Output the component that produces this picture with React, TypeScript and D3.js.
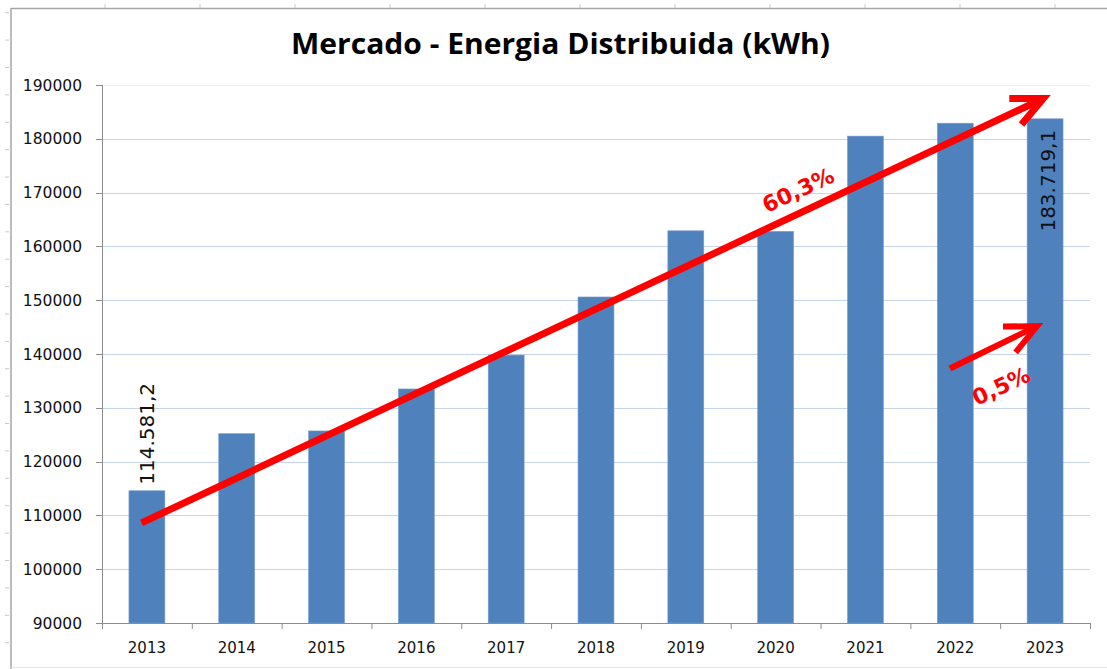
import React from "react";
import * as d3 from "d3";

// chart data
const years = ["2013", "2014", "2015", "2016", "2017", "2018", "2019", "2020", "2021", "2022", "2023"];
const energy = [114581.2, 125200, 125700, 133500, 139800, 150600, 162900, 162800, 180500, 182900, 183719.1];
const yTicks = [90000, 100000, 110000, 120000, 130000, 140000, 150000, 160000, 170000, 180000, 190000];
const labelled = [
  { year: "2013", text: "114.581,2", inside: false },
  { year: "2023", text: "183.719,1", inside: true },
];
// annotation arrows: year + offset (fraction of a band) and value
const arrows = [
  { from: ["2013", -0.06, 108600], to: ["2023", -0.02, 187500], width: 7 },
  { from: ["2022", -0.06, 137300], to: ["2023", -0.09, 145200], width: 6 },
];
const notes = [
  { at: ["2020", 0.25, 170500], text: "60,3%" },
  { at: ["2022", 0.51, 134050], text: "0,5%" },
];

const W = 1107;
const H = 669;
const FONT = "'DejaVu Sans', Verdana, sans-serif";

export default function App() {
  const x = d3.scaleBand().domain(years).range([102, 1090]).padding(0);
  const y = d3.scaleLinear().domain([90000, 190000]).range([623, 85]);
  const bw = x.bandwidth() * 0.4;
  const cx = (yr: string) => (x(yr) as number) + x.bandwidth() / 2;
  const pt = (p: any[]) => [cx(p[0]) + p[1] * x.bandwidth(), y(p[2])];
  const fmt = d3.format("d");

  // spreadsheet background ticks
  const rowTicks = d3.range(0, 24).map((i) => 12.7 + i * 27.39);
  const colTicks = d3.range(0, 11).map((i) => 105 + i * 95);

  return (
    <svg width={W} height={H} style={{ position: "absolute", left: 0, top: 0, background: "#fff" }}>
      {/* sheet frame */}
      {rowTicks.map((t, i) => (
        <line key={"r" + i} x1={5} x2={9} y1={t} y2={t} stroke="#c8c8c8" />
      ))}
      {colTicks.map((t, i) => (
        <line key={"c" + i} x1={t} x2={t} y1={4} y2={8} stroke="#c8c8c8" />
      ))}
      <line x1={11} x2={W} y1={8.5} y2={8.5} stroke="#a6a6a6" strokeWidth={1.5} />
      <line x1={11} x2={11} y1={8} y2={H} stroke="#a6a6a6" strokeWidth={1.5} />
      <line x1={11} x2={W} y1={667.5} y2={667.5} stroke="#e6e6e6" />

      {/* title */}
      <text
        x={560.5}
        y={53.5}
        textAnchor="middle"
        fontFamily="'Open Sans', sans-serif"
        fontWeight="bold"
        fontSize={28}
        textLength={539}
        lengthAdjust="spacingAndGlyphs"
        fill="#000"
      >
        Mercado - Energia Distribuida (kWh)
      </text>

      {/* gridlines */}
      {yTicks.slice(1).map((t) => (
        <line
          key={t}
          x1={102}
          x2={1090}
          y1={Math.round(y(t)) + 0.5}
          y2={Math.round(y(t)) + 0.5}
          stroke={t === 190000 ? "#eef2f8" : "#c6d5ea"}
          strokeWidth={1.2}
        />
      ))}

      {/* bars */}
      {years.map((yr, i) => (
        <rect
          key={yr}
          x={cx(yr) - bw / 2}
          y={y(energy[i])}
          width={bw}
          height={y(90000) - y(energy[i])}
          fill="#4f81bd"
          stroke="#7a9fcd"
          strokeWidth={0.6}
        />
      ))}

      {/* axes */}
      <line x1={102.5} x2={102.5} y1={85} y2={623} stroke="#8c8c8c" />
      {yTicks.map((t) => (
        <g key={"yt" + t}>
          <line x1={96} x2={102} y1={Math.round(y(t)) + 0.5} y2={Math.round(y(t)) + 0.5} stroke="#8c8c8c" />
          <text
            x={82}
            y={y(t)}
            dy="0.36em"
            textAnchor="end"
            fontFamily={FONT}
            fontSize={15.5}
            fill="#111"
          >
            {fmt(t)}
          </text>
        </g>
      ))}
      <line x1={102} x2={1090} y1={623.5} y2={623.5} stroke="#8c8c8c" />
      {[...years.map((yr) => x(yr) as number), 1090].map((t, i) => (
        <line key={"xt" + i} x1={t + 0.5} x2={t + 0.5} y1={623} y2={629} stroke="#8c8c8c" />
      ))}
      {years.map((yr) => (
        <text
          key={"xl" + yr}
          x={cx(yr)}
          y={653}
          textAnchor="middle"
          fontFamily={FONT}
          fontSize={15}
          fill="#111"
        >
          {yr}
        </text>
      ))}

      {/* value labels */}
      {labelled.map((d) => {
        const v = energy[years.indexOf(d.year)];
        const px = cx(d.year) + (d.inside ? 3 : 0);
        const py = d.inside ? y(v) + 11 : y(v) - 6;
        return (
          <text
            key={"lab" + d.year}
            transform={`translate(${px},${py}) rotate(-90)`}
            textAnchor={d.inside ? "end" : "start"}
            dy="0.36em"
            fontFamily={FONT}
            fontSize={20}
            fill="#111"
          >
            {d.text}
          </text>
        );
      })}

      {/* red arrows */}
      {arrows.map((a, i) => {
        const [x0, y0] = pt(a.from);
        const [x1, y1] = pt(a.to);
        const ang = Math.atan2(y0 - y1, x0 - x1);
        const len = 34;
        const spread = (25 * Math.PI) / 180;
        const h1 = [x1 + len * Math.cos(ang - spread), y1 + len * Math.sin(ang - spread)];
        const h2 = [x1 + len * Math.cos(ang + spread), y1 + len * Math.sin(ang + spread)];
        return (
          <g key={"ar" + i} stroke="#ff0000" strokeWidth={a.width} fill="none">
            <line x1={x0} y1={y0} x2={x1 + 3 * Math.cos(ang)} y2={y1 + 3 * Math.sin(ang)} />
            <polyline points={`${h1[0]},${h1[1]} ${x1},${y1} ${h2[0]},${h2[1]}`} strokeLinejoin="miter" />
          </g>
        );
      })}
      {notes.map((n) => {
        const [px, py] = pt(n.at);
        return (
          <text
            key={n.text}
            transform={`translate(${px},${py}) rotate(-25)`}
            textAnchor="middle"
            dy="0.36em"
            fontFamily={FONT}
            fontWeight="bold"
            fontSize={22}
            fill="#ff0000"
          >
            {n.text}
          </text>
        );
      })}
    </svg>
  );
}
